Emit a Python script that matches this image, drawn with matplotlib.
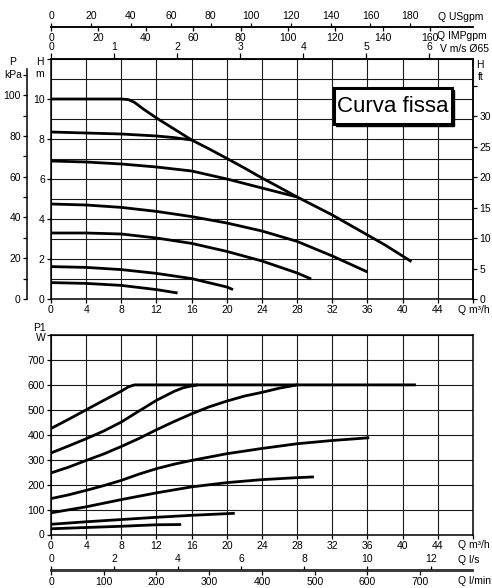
import numpy as np
import matplotlib
matplotlib.use('Agg')
import matplotlib.pyplot as plt
from matplotlib.patches import Rectangle

plt.rcParams['font.family'] = ['Liberation Sans', 'DejaVu Sans']
plt.rcParams['font.size'] = 7.5

# ---- head curves (Q m3/h, H m) ----
fixed_q = [0, 8, 8.8, 9.5, 10.5, 12, 14, 16, 18, 20, 22, 24, 26, 28, 30, 32, 34, 36, 38, 41]
fixed_h = [10, 10, 9.97, 9.83, 9.5, 9.05, 8.5, 7.95, 7.5, 7.03, 6.55, 6.05, 5.58, 5.1, 4.65, 4.2, 3.7, 3.2, 2.7, 1.87]

head2_q = [0, 4, 8, 12, 14, 16]
head2_h = [8.35, 8.3, 8.25, 8.15, 8.07, 7.95]
head3_q = [0, 4, 8, 12, 16, 20, 24, 28]
head3_h = [6.9, 6.85, 6.75, 6.6, 6.4, 6.0, 5.55, 5.1]
head4_q = [0, 4, 8, 12, 16, 20, 24, 28, 32, 36]
head4_h = [4.75, 4.7, 4.58, 4.38, 4.12, 3.8, 3.4, 2.88, 2.15, 1.35]
head5_q = [0, 4, 8, 12, 16, 20, 24, 28, 29.6]
head5_h = [3.3, 3.3, 3.25, 3.05, 2.78, 2.38, 1.9, 1.3, 1.0]
head6_q = [0, 4, 8, 12, 16, 20, 20.7]
head6_h = [1.62, 1.58, 1.47, 1.28, 1.02, 0.6, 0.47]
head7_q = [0, 4, 8, 12, 14.4]
head7_h = [0.82, 0.78, 0.68, 0.47, 0.3]

# ---- power curves (Q m3/h, P1 W) ----
powA_q = [0, 2, 4, 6, 8, 8.8, 9.5, 41.5]
powA_p = [425, 462, 500, 538, 575, 592, 600, 600]
powB_q = [0, 2, 4, 6, 8, 10, 12, 14, 15, 16, 16.7]
powB_p = [327, 355, 384, 415, 451, 495, 538, 574, 588, 596, 600]
powC_q = [0, 2, 4, 6, 8, 10, 12, 14, 16, 18, 20, 22, 24, 26, 28]
powC_p = [247, 270, 297, 323, 353, 385, 420, 453, 484, 512, 535, 555, 570, 587, 600]
powD_q = [0, 2, 4, 6, 8, 10, 12, 14, 16, 20, 24, 28, 32, 36.2]
powD_p = [144, 159, 177, 196, 217, 242, 264, 282, 297, 324, 345, 364, 377, 388]
powE_q = [0, 4, 8, 12, 16, 20, 24, 28, 29.9]
powE_p = [87, 111, 140, 167, 191, 208, 220, 228, 231]
powF_q = [0, 4, 8, 12, 16, 20.9]
powF_p = [41, 51, 60, 69, 77, 85]
powG_q = [0, 4, 8, 12, 14.8]
powG_p = [23, 28, 33, 39, 40]

head_curves = [(fixed_q, fixed_h), (head2_q, head2_h), (head3_q, head3_h), (head4_q, head4_h),
               (head5_q, head5_h), (head6_q, head6_h), (head7_q, head7_h)]
power_curves = [(powA_q, powA_p), (powB_q, powB_p), (powC_q, powC_p), (powD_q, powD_p),
                (powE_q, powE_p), (powF_q, powF_p), (powG_q, powG_p)]

# unit conversions (as scaled on the original sheet)
USGPM_PER_M3H = 4.403
IMPGPM_PER_M3H = 3.71
M3H_PER_MS = 7.17
KPA_PER_M = 9.81
FT_PER_M = 1 / 0.3048
M3H_PER_LS = 3.6
M3H_PER_LMIN = 0.06

W, H = 492, 588
fig = plt.figure(figsize=(W / 100, H / 100), dpi=100)
fig.patch.set_facecolor('white')


def fx(px):
    return px / W


def fy(py):
    return 1 - py / H


ax1 = fig.add_axes([fx(51), fy(299), 422 / W, 240 / H])
ax2 = fig.add_axes([fx(51), fy(534.5), 422 / W, 199.5 / H])

tick_kw = dict(direction='out', length=3, width=0.9, pad=1.5, colors='black')

for ax in (ax1, ax2):
    ax.set_xlim(0, 48)
    ax.set_xticks(range(0, 49, 4), labels=[str(v) for v in range(0, 45, 4)] + [''])
    ax.tick_params(**tick_kw)
    for s in ax.spines.values():
        s.set_linewidth(1.1)
    ax.set_axisbelow(True)

# ---- head chart ----
ax1.set_ylim(0, 12)
ax1.set_yticks(range(0, 13, 2), labels=[str(v) for v in range(0, 11, 2)] + [''])
ax1.set_yticks(range(1, 12, 2), minor=True)
ax1.tick_params(which='minor', length=0)
ax1.grid(True, which='both', color='#1a1a1a', linewidth=0.8)
for q, h in head_curves:
    ax1.plot(q, h, color='black', linewidth=2.0, solid_capstyle='butt')

box_shadow = Rectangle((0.6706 + 0.005, 0.729 - 0.009), 0.279, 0.15, transform=ax1.transAxes,
                       facecolor='black', edgecolor='black', zorder=4)
box = Rectangle((0.6706, 0.729), 0.279, 0.15, transform=ax1.transAxes,
                facecolor='white', edgecolor='black', linewidth=2.2, zorder=5)
ax1.add_patch(box_shadow)
ax1.add_patch(box)
ax1.text(0.81, 0.803, 'Curva fissa', transform=ax1.transAxes, ha='center', va='center',
         fontsize=16, fontstretch='condensed', zorder=6)

# kPa axis (left, offset)
kpa = ax1.secondary_yaxis(-24 / 422, functions=(lambda m: m * KPA_PER_M, lambda k: k / KPA_PER_M))
kpa.set_yticks(range(0, 101, 20))
kpa.set_yticks(range(10, 111, 20), minor=True)
kpa.tick_params(which='both', **tick_kw)
kpa.tick_params(which='minor', length=3)
kpa.spines['left'].set_linewidth(1.1)
kpa.spines['left'].set_bounds(0, 113)

# ft axis (right)
ft = ax1.secondary_yaxis('right', functions=(lambda m: m * FT_PER_M, lambda f: f / FT_PER_M))
ft.set_yticks(range(0, 36, 5), labels=[str(v) for v in range(0, 31, 5)] + [''])
ft.tick_params(**tick_kw)
ft.spines['right'].set_linewidth(1.1)

# velocity axis (top)
vel = ax1.secondary_xaxis('top', functions=(lambda q: q / M3H_PER_MS, lambda v: v * M3H_PER_MS))
vel.set_xticks(range(0, 7))
vel.tick_params(direction='out', length=4, width=0.9, pad=1)
vel.spines['top'].set_linewidth(1.1)

gpm_loc = 1 + 32 / 240
us = ax1.secondary_xaxis(gpm_loc, functions=(lambda q: q * USGPM_PER_M3H, lambda g: g / USGPM_PER_M3H))
us.set_xticks(range(0, 181, 20))
us.tick_params(direction='out', length=3, width=0.9, pad=1.5)
us.spines['top'].set_linewidth(1.1)

imp = ax1.secondary_xaxis(gpm_loc, functions=(lambda q: q * IMPGPM_PER_M3H, lambda g: g / IMPGPM_PER_M3H))
imp.set_alignment('bottom')
imp.set_xticks(range(0, 161, 20))
imp.tick_params(direction='out', length=3, width=0.9, pad=1.5)
imp.spines['bottom'].set_linewidth(1.1)

# ---- power chart ----
ax2.set_ylim(0, 800)
ax2.set_yticks(range(0, 801, 100), labels=[str(v) for v in range(0, 701, 100)] + [''])
ax2.grid(True, color='#1a1a1a', linewidth=0.8)
for q, p in power_curves:
    ax2.plot(q, p, color='black', linewidth=2.0, solid_capstyle='butt')

flow_loc = -36 / 199.5
ls = ax2.secondary_xaxis(flow_loc, functions=(lambda q: q / M3H_PER_LS, lambda l: l * M3H_PER_LS))
ls.set_alignment('top')
ls.set_xticks(range(0, 13, 2))
ls.tick_params(direction='out', length=3, width=0.9, pad=1.5)
ls.spines['top'].set_linewidth(1.1)

lmin = ax2.secondary_xaxis(flow_loc, functions=(lambda q: q / M3H_PER_LMIN, lambda l: l * M3H_PER_LMIN))
lmin.set_alignment('bottom')
lmin.set_xticks(range(0, 701, 100))
lmin.tick_params(direction='out', length=3, width=0.9, pad=1.5)
lmin.spines['bottom'].set_linewidth(1.1)

# ---- unit labels ----
fs = 7.5
fig.text(fx(438), fy(17), 'Q USgpm', ha='left', va='center', fontsize=fs)
fig.text(fx(437), fy(36), 'Q IMPgpm', ha='left', va='center', fontsize=fs)
fig.text(fx(440), fy(49), 'V m/s Ø65', ha='left', va='center', fontsize=fs)
fig.text(fx(13), fy(62), 'P', ha='center', va='center', fontsize=fs)
fig.text(fx(13), fy(75), 'kPa', ha='center', va='center', fontsize=fs)
fig.text(fx(40), fy(62), 'H', ha='center', va='center', fontsize=fs)
fig.text(fx(40), fy(74), 'm', ha='center', va='center', fontsize=fs)
fig.text(fx(480), fy(65), 'H', ha='center', va='center', fontsize=fs)
fig.text(fx(481), fy(77), 'ft', ha='center', va='center', fontsize=fs)
fig.text(fx(458), fy(310), 'Q m³/h', ha='left', va='center', fontsize=fs)
fig.text(fx(40), fy(328), 'P1', ha='center', va='center', fontsize=fs)
fig.text(fx(41), fy(338), 'W', ha='center', va='center', fontsize=fs)
fig.text(fx(458), fy(545), 'Q m³/h', ha='left', va='center', fontsize=fs)
fig.text(fx(458), fy(560), 'Q l/s', ha='left', va='center', fontsize=fs)
fig.text(fx(458), fy(581), 'Q l/min', ha='left', va='center', fontsize=fs)

fig.savefig('out.png', dpi=100, facecolor='white')
